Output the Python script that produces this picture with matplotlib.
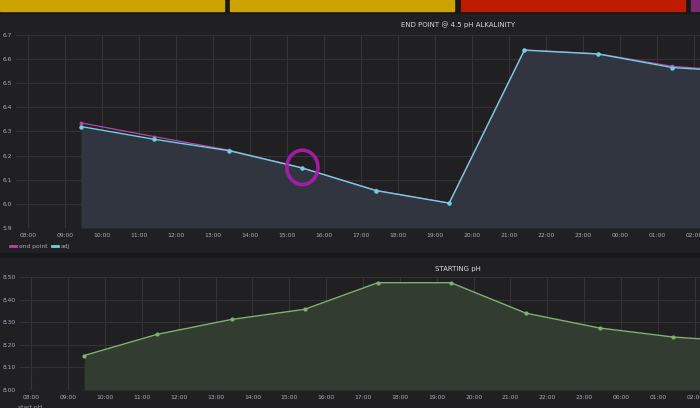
import matplotlib
matplotlib.use("Agg")
import matplotlib.pyplot as plt
import matplotlib.dates as mdates
from matplotlib.patches import Rectangle, Ellipse
from matplotlib.lines import Line2D
import pandas as pd

# sample times (two days)
times = ["2018-03-01 09:26", "2018-03-01 11:25", "2018-03-01 13:26", "2018-03-01 15:25",
         "2018-03-01 17:24", "2018-03-01 19:23", "2018-03-01 21:25", "2018-03-01 23:25",
         "2018-03-02 01:25", "2018-03-02 03:25"]
end_point = [6.335, 6.278, 6.222, 6.149, 6.056, 6.003, 6.637, 6.621, 6.569, 6.547]
adj = [6.320, 6.267, 6.220, 6.148, 6.055, 6.003, 6.636, 6.620, 6.564, 6.545]
start_ph = [8.153, 8.247, 8.313, 8.358, 8.476, 8.476, 8.341, 8.275, 8.235, 8.213]

top_title = "END POINT @ 4.5 pH ALKALINITY"
bottom_title = "STARTING pH"
strip_colors = ["#cca300", "#cca300", "#bf1b00", "#7b2a72"]

t = pd.to_datetime(times)
day0 = pd.Timestamp("2018-03-01")

BG = "#161719"
PANEL = "#202023"
GRID = "#333337"
TXT = "#a8adb4"
W, H = 700, 408

fig = plt.figure(figsize=(7, 4.08), dpi=100, facecolor=BG)


def box(x0, y0, x1, y1, color):
    # rectangle given in pixel coords from the top-left corner
    fig.patches.append(Rectangle((x0 / W, 1 - y1 / H), (x1 - x0) / W, (y1 - y0) / H,
                                 transform=fig.transFigure, color=color, zorder=-5))


# single-stat strips across the top
for (x0, x1), c in zip([(0, 224), (230, 454), (461, 685), (691, 720)], strip_colors):
    box(x0, 0, x1, 11, c)
# panel backgrounds
box(0, 14, 700, 252, PANEL)
box(0, 258, 700, 408, PANEL)


def style(ax, lo, hi, fmt):
    ax.set_facecolor(PANEL)
    for s in ax.spines.values():
        s.set_visible(False)
    ax.grid(True, color=GRID, lw=0.8)
    ax.set_axisbelow(True)
    ax.xaxis.set_major_locator(mdates.HourLocator(interval=1))
    ax.xaxis.set_major_formatter(mdates.DateFormatter("%H:%M"))
    ax.tick_params(length=0, labelsize=4.3, colors=TXT, pad=3.5)
    ax.tick_params(axis="y", pad=3)
    ax.set_xlim(day0 + pd.Timedelta(hours=lo), day0 + pd.Timedelta(hours=hi))
    ax.yaxis.set_major_formatter(fmt)


# ---- top panel ----
ax1 = fig.add_axes([16 / W, (H - 228) / H, 684 / W, 193.3 / H])
style(ax1, 7.676, 26.162, matplotlib.ticker.FormatStrFormatter("%.1f"))
ax1.set_ylim(5.9, 6.7)
ax1.set_yticks([5.9, 6.0, 6.1, 6.2, 6.3, 6.4, 6.5, 6.6, 6.7])
ax1.fill_between(t, adj, 5.9, color="#31353f", lw=0)
ax1.plot(t, end_point, color="#ba43a9", lw=0.9, marker="o", ms=1.8)
ax1.plot(t, adj, color="#6ed0e0", lw=1, marker="o", ms=2.2)
# hand drawn circle around the 15:25 reading
ax1.add_patch(Ellipse((mdates.date2num(t[3]), adj[3] + 0.003), 0.84 / 24, 0.142,
                      fill=False, ec="#b01cb0", lw=2.6, alpha=0.9, zorder=5))
fig.text(458 / W, 1 - 25 / H, top_title, color="#d8d9da", fontsize=5, ha="center", va="center")
handles = [Line2D([], [], color="#ba43a9", lw=2), Line2D([], [], color="#6ed0e0", lw=2)]
fig.legend(handles, ["end point", "adj"], loc="center left", bbox_to_anchor=(5 / W, 1 - 246 / H),
           ncol=2, frameon=False, fontsize=4.3, labelcolor=TXT, handlelength=1.0,
           handletextpad=0.4, columnspacing=0.8)

# ---- bottom panel ----
ax2 = fig.add_axes([20 / W, 18 / H, 680 / W, 112.7 / H])
style(ax2, 7.693, 26.142, matplotlib.ticker.FormatStrFormatter("%.2f"))
ax2.set_ylim(8.0, 8.5)
ax2.set_yticks([8.0, 8.1, 8.2, 8.3, 8.4, 8.5])
ax2.fill_between(t, start_ph, 8.0, color="#323c31", lw=0)
ax2.plot(t, start_ph, color="#7eb26d", lw=1, marker="o", ms=2)
fig.text(458 / W, 1 - 269 / H, bottom_title, color="#d8d9da", fontsize=5, ha="center", va="center")
fig.text(18 / W, 1 - 407 / H, "start pH", color=TXT, fontsize=4.3, ha="left", va="center")

fig.savefig("out.png", dpi=100, facecolor=BG)
